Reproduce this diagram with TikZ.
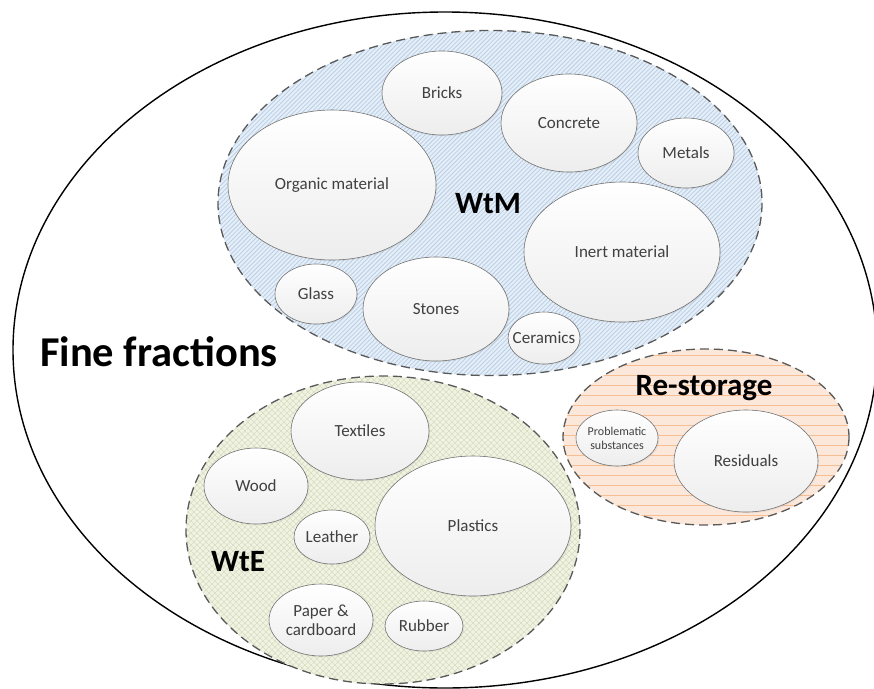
\documentclass[tikz,border=0pt]{standalone}
\usepackage{fontspec}
\setmainfont{Carlito}
\usetikzlibrary{shapes.geometric,shadows}
\definecolor{wtmfill}{HTML}{E6EEF7}
\definecolor{wtmline}{HTML}{B9D0E7}
\definecolor{wtefill}{HTML}{F0F2E3}
\definecolor{wteline}{HTML}{D8DEBF}
\definecolor{resfill}{HTML}{FCE8DB}
\definecolor{resline}{HTML}{F5BF93}

\begin{document}
\begin{tikzpicture}[x=1pt,y=-1pt,
  item/.style={ellipse,draw=black!55,line width=0.6pt,top color=white,bottom color=black!7,
    drop shadow={opacity=0.12,shadow xshift=1.2pt,shadow yshift=-1.2pt},
    inner xsep=-10pt,inner ysep=0pt,align=center,text=black!75,font=\fontsize{17}{19}\selectfont},
  group/.style={ellipse,inner sep=0pt},
  border/.style={draw=black!65,line width=1.3pt,dash pattern=on 9pt off 5pt},
  tag/.style={font=\bfseries\fontsize{31}{31}\selectfont}]
\useasboundingbox (0,0) rectangle (874,688);
\node[ellipse,draw,line width=1.4pt,minimum width=864pt,minimum height=676pt] (fine) at (445,350) {};

\node[group,fill=wtmfill,minimum width=544pt,minimum height=345pt] (wtm) at (490,203) {};
\begin{scope}
  \clip (wtm.center) ellipse [x radius=272,y radius=172.5];
  \foreach \s in {-150,-145.6,...,770}
    \draw[wtmline,line width=0.8pt] (\s,380) -- ++(360,-360);
\end{scope}
\draw[border] (wtm.center) ellipse [x radius=272,y radius=172.5];

\node[group,fill=wtefill,minimum width=394pt,minimum height=308pt] (wte) at (383,530) {};
\begin{scope}
  \clip (wte.center) ellipse [x radius=197,y radius=154];
  \foreach \s in {-140,-134,...,590}{
    \draw[wteline,line width=0.6pt] (\s,690) -- ++(320,-320);
    \draw[wteline,line width=0.6pt] (\s,370) -- ++(320,320);
  }
\end{scope}
\draw[border] (wte.center) ellipse [x radius=197,y radius=154];

\node[group,fill=resfill,minimum width=286pt,minimum height=176pt] (restore) at (706,437) {};
\begin{scope}
  \clip (restore.center) ellipse [x radius=143,y radius=88];
  \foreach \y in {355,365,...,525}
    \draw[resline,line width=0.8pt] (560,\y) -- (852,\y);
\end{scope}
\draw[border] (restore.center) ellipse [x radius=143,y radius=88];

\node[item,minimum width=120pt,minimum height=84pt] (bricks) at (442,93) {Bricks};
\node[item,minimum width=136pt,minimum height=98pt] (concrete) at (569,123) {Concrete};
\node[item,minimum width=96pt,minimum height=70pt] (metals) at (686,153) {Metals};
\node[item,minimum width=208pt,minimum height=150pt] (organic) at (332,185) {Organic material};
\node[item,minimum width=196pt,minimum height=140pt] (inert) at (622,252) {Inert material};
\node[item,minimum width=82pt,minimum height=60pt] (glass) at (316,294) {Glass};
\node[item,minimum width=146pt,minimum height=104pt] (stones) at (436,309) {Stones};
\node[item,minimum width=72pt,minimum height=52pt] (ceramics) at (544,338) {Ceramics};

\node[item,minimum width=138pt,minimum height=98pt] (textiles) at (360,431) {Textiles};
\node[item,minimum width=104pt,minimum height=76pt] (wood) at (256,486) {Wood};
\node[item,minimum width=76pt,minimum height=54pt] (leather) at (332,537) {Leather};
\node[item,minimum width=196pt,minimum height=140pt] (plastics) at (473,526) {Plastics};
\node[item,minimum width=104pt,minimum height=72pt] (paper) at (321,620) {Paper \&\\cardboard};
\node[item,minimum width=78pt,minimum height=50pt] (rubber) at (424,626) {Rubber};

\node[item,minimum width=82pt,minimum height=56pt,font=\fontsize{12}{14}\selectfont] (problem) at (617,438) {Problematic\\substances};
\node[item,minimum width=144pt,minimum height=102pt] (residuals) at (746,461) {Residuals};

\node[tag] (wtmlabel) at (488,204) {WtM};
\node[tag] (wtelabel) at (238,562) {WtE};
\node[tag] (reslabel) at (704,388) {Re-storage};
\node[font=\bfseries\fontsize{42.5}{42.5}\selectfont] (finelabel) at (159,352) {Fine fractions};
\end{tikzpicture}
\end{document}
